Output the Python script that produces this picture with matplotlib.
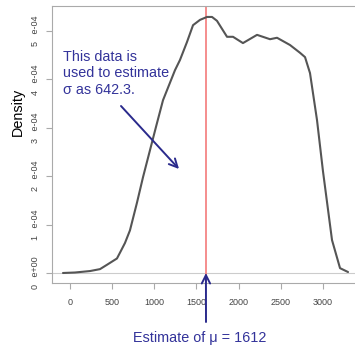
import matplotlib
matplotlib.use("Agg")
import matplotlib.pyplot as plt

# density curve (x value, density)
dens_x = [-83, 59, 237, 356, 439, 557, 593, 652, 711, 794, 866, 949, 1020, 1103,
          1245, 1304, 1387, 1459, 1542, 1625, 1684, 1743, 1862, 1933, 2051, 2218,
          2372, 2455, 2609, 2727, 2787, 2846, 2929, 3000, 3107, 3202, 3297]
dens_y = [0.00, 0.01, 0.04, 0.08, 0.17, 0.30, 0.42, 0.62, 0.88, 1.45, 1.98, 2.54, 3.02, 3.57,
          4.19, 4.40, 4.77, 5.12, 5.23, 5.29, 5.29, 5.21, 4.88, 4.88, 4.75, 4.92,
          4.83, 4.86, 4.71, 4.55, 4.46, 4.13, 3.16, 2.10, 0.68, 0.10, 0.02]
dens_y = [v * 1e-4 for v in dens_y]

mu_hat = 1612
x_ticks = [0, 500, 1000, 1500, 2000, 2500, 3000]
y_ticks = [0, 1e-4, 2e-4, 3e-4, 4e-4, 5e-4]
y_tick_labels = ["0   e+00", "1   e-04", "2   e-04", "3   e-04", "4   e-04", "5   e-04"]
sigma_text = "This data is\nused to estimate\n\u03c3 as 642.3."
mu_text = "Estimate of \u03bc = 1612"

plt.rcParams['font.family'] = ['Liberation Sans', 'DejaVu Sans']

W, H = 355, 345
fig = plt.figure(figsize=(W / 100, H / 100), dpi=100)
fig.patch.set_facecolor("white")

def fx(px):
    return px / W

def fy(py):
    return 1 - py / H

left, right, top, bottom = 51.6, 359.0, 6.3, 283.3
ax = fig.add_axes([fx(left), fy(bottom), (right - left) / W, (bottom - top) / H])
ax.set_xlim(-218, 3427)
ax.set_ylim(-0.213e-4, 5.51e-4)

ax.axhline(0, color="#cccccc", lw=0.8, zorder=1)
ax.axvline(mu_hat, color="#f47a7a", lw=1.2, zorder=2)
ax.plot(dens_x, dens_y, color="#555555", lw=1.5, zorder=3, solid_capstyle="round",
        solid_joinstyle="round")

for s in ax.spines.values():
    s.set_color("#aaaaaa")
    s.set_linewidth(0.8)

ax.set_xticks(x_ticks)
ax.set_xticklabels([str(v) for v in x_ticks])
ax.set_yticks(y_ticks)
ax.set_yticklabels(y_tick_labels, rotation=90, va="center")
ax.tick_params(axis="both", colors="#aaaaaa", labelcolor="#444444", labelsize=6.5,
               length=4.5, width=0.8)
ax.tick_params(axis="x", pad=6)
ax.tick_params(axis="y", pad=3.5)

fig.text(fx(17.5), fy(112), "Density", rotation=90, ha="center", va="center",
         fontsize=10.4, color="black")

txt_color = "#33339a"
arr_color = "#2a2a8c"
fig.text(fx(63), fy(50), sigma_text, ha="left", va="top", fontsize=10.4,
         color=txt_color, linespacing=1.22)

ax.annotate("", xy=(fx(179), fy(169)), xycoords="figure fraction",
            xytext=(fx(121), fy(106)), textcoords="figure fraction",
            arrowprops=dict(arrowstyle="->,head_length=0.6,head_width=0.3",
                            color=arr_color, lw=1.4, mutation_scale=10,
                            shrinkA=0, shrinkB=0))

ax.annotate("", xy=(mu_hat, 0), xycoords="data",
            xytext=(fx(206), fy(322)), textcoords="figure fraction",
            arrowprops=dict(arrowstyle="->,head_length=0.6,head_width=0.3",
                            color=arr_color, lw=1.4, mutation_scale=10,
                            shrinkA=0, shrinkB=0),
            annotation_clip=False)

fig.text(fx(199.5), fy(338), mu_text, ha="center", va="center", fontsize=10.4,
         color=txt_color)

fig.savefig("out.png", dpi=100, facecolor="white")
